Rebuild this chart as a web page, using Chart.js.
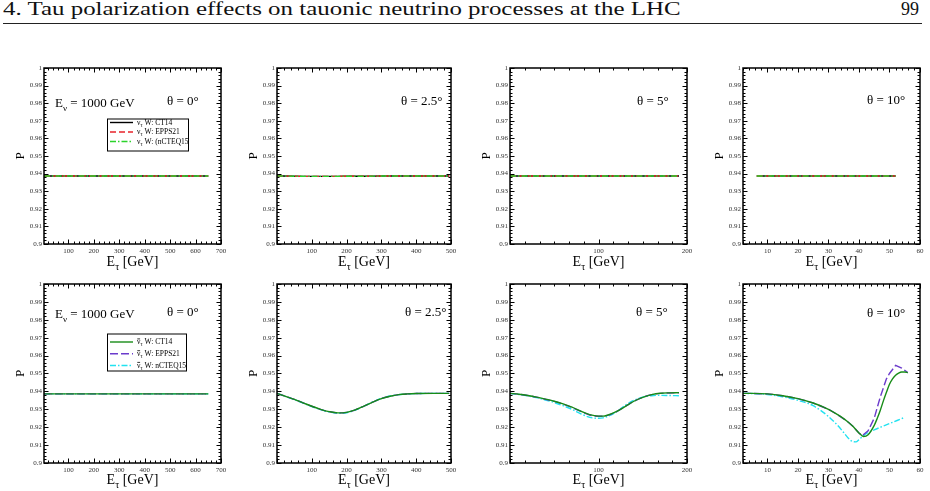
<!DOCTYPE html>
<html>
<head>
<meta charset="utf-8">
<script src="https://cdn.jsdelivr.net/npm/chart.js@4.4.1/dist/chart.umd.min.js"></script>
<style>
html,body{margin:0;padding:0;background:#fff;}
body{width:930px;height:491px;position:relative;overflow:hidden;}
#hdr{position:absolute;left:3px;top:0px;font-family:"Liberation Serif",serif;font-size:18px;line-height:19px;color:#111;white-space:nowrap;transform-origin:0 0;}
#pg{position:absolute;left:901px;top:0px;font-family:"Liberation Serif",serif;font-size:18px;line-height:19px;color:#111;white-space:nowrap;}
#rule{position:absolute;left:3px;width:919px;top:23px;height:0;border-top:1.3px solid #222;}
canvas{position:absolute;}
</style>
</head>
<body>
<div id="hdr"></div><div id="pg"></div><div id="rule"></div>
<script>
// ---------------- text ----------------
const PAGE_TITLE = "4. Tau polarization effects on tauonic neutrino processes at the LHC";
const PAGE_NUMBER = "99";
const angleLabels = ["θ = 0°", "θ = 2.5°", "θ = 5°", "θ = 10°"];
const beamEnergyText = " = 1000 GeV";
const nuLegendNames = ["W: CT14", "W: EPPS21", "W: (nCTEQ15"];
const nubarLegendNames = ["W: CT14", "W: EPPS21", "W: nCTEQ15"];
const yAxisTitle = "P";

// ---------------- data: top row (ν_τ) ----------------
const E_nu_0 = [4, 50, 100, 150, 200, 250, 300, 350, 400, 450, 500, 550, 600, 650];
const P_nu_0_CT14    = [0.9386,0.9386,0.9386,0.9386,0.9386,0.9386,0.9386,0.9386,0.9386,0.9386,0.9386,0.9386,0.9386,0.9386];
const P_nu_0_EPPS21  = [0.9386,0.9386,0.9386,0.9386,0.9386,0.9386,0.9386,0.9386,0.9386,0.9386,0.9386,0.9386,0.9386,0.9386];
const P_nu_0_nCTEQ15 = [0.9386,0.9386,0.9386,0.9386,0.9386,0.9386,0.9386,0.9386,0.9386,0.9386,0.9386,0.9386,0.9386,0.9386];

const E_nu_25 = [0, 50, 100, 150, 200, 250, 300, 350, 400, 450, 495];
const P_nu_25_CT14    = [0.9387,0.9385,0.9384,0.9384,0.9385,0.9385,0.9386,0.9386,0.9386,0.9386,0.9386];
const P_nu_25_EPPS21  = [0.9387,0.9385,0.9384,0.9384,0.9385,0.9385,0.9386,0.9386,0.9386,0.9386,0.9386];
const P_nu_25_nCTEQ15 = [0.9387,0.9385,0.9384,0.9384,0.9385,0.9385,0.9386,0.9386,0.9386,0.9386,0.9386];

const E_nu_5 = [0, 20, 40, 60, 80, 100, 120, 140, 160, 180, 191];
const P_nu_5_CT14    = [0.9386,0.9386,0.9386,0.9386,0.9386,0.9386,0.9386,0.9386,0.9386,0.9386,0.9386];
const P_nu_5_EPPS21  = [0.9386,0.9386,0.9386,0.9386,0.9386,0.9386,0.9386,0.9386,0.9386,0.9386,0.9386];
const P_nu_5_nCTEQ15 = [0.9386,0.9386,0.9386,0.9386,0.9386,0.9386,0.9386,0.9386,0.9386,0.9386,0.9386];

const E_nu_10 = [6.5, 10, 15, 20, 25, 30, 35, 40, 45, 52];
const P_nu_10_CT14    = [0.9386,0.9386,0.9386,0.9386,0.9386,0.9386,0.9386,0.9386,0.9386,0.9386];
const P_nu_10_EPPS21  = [0.9386,0.9386,0.9386,0.9386,0.9386,0.9386,0.9386,0.9386,0.9386,0.9386];
const P_nu_10_nCTEQ15 = [0.9386,0.9386,0.9386,0.9386,0.9386,0.9386,0.9386,0.9386,0.9386,0.9386];

// ---------------- data: bottom row (anti-ν_τ) ----------------
const E_nb_0 = [4, 50, 100, 150, 200, 250, 300, 350, 400, 450, 500, 550, 600, 650];
const P_nb_0_CT14    = [0.9386,0.9386,0.9386,0.9386,0.9386,0.9386,0.9386,0.9386,0.9386,0.9386,0.9386,0.9386,0.9386,0.9386];
const P_nb_0_EPPS21  = [0.9386,0.9386,0.9386,0.9386,0.9386,0.9386,0.9386,0.9386,0.9386,0.9386,0.9386,0.9386,0.9386,0.9386];
const P_nb_0_nCTEQ15 = [0.9386,0.9386,0.9386,0.9386,0.9386,0.9386,0.9386,0.9386,0.9386,0.9386,0.9386,0.9386,0.9386,0.9386];

const E_nb_25 = [0, 25, 50, 75, 100, 125, 150, 175, 200, 225, 250, 275, 300, 325, 350, 375, 400, 450, 495];
const P_nb_25_CT14    = [0.9389,0.9372,0.9355,0.9336,0.9317,0.9300,0.9287,0.9280,0.9283,0.9297,0.9318,0.9340,0.9360,0.9373,0.9382,0.9386,0.9388,0.9389,0.9389];
const P_nb_25_EPPS21  = [0.9389,0.9372,0.9355,0.9336,0.9317,0.9300,0.9287,0.9280,0.9283,0.9297,0.9318,0.9340,0.9360,0.9373,0.9382,0.9386,0.9388,0.9389,0.9389];
const P_nb_25_nCTEQ15 = [0.9389,0.9371,0.9354,0.9335,0.9315,0.9298,0.9285,0.9278,0.9281,0.9296,0.9318,0.9341,0.9361,0.9374,0.9382,0.9386,0.9388,0.9389,0.9389];

const E_nb_5 = [0, 10, 20, 30, 40, 50, 60, 70, 80, 90, 100, 105, 110, 120, 130, 140, 150, 160, 170, 180, 191];
const P_nb_5_CT14    = [0.9389,0.9384,0.9377,0.9368,0.9357,0.9345,0.9330,0.9312,0.9290,0.9270,0.9262,0.9262,0.9267,0.9287,0.9315,0.9345,0.9367,0.9382,0.9390,0.9392,0.9393];
const P_nb_5_EPPS21  = [0.9389,0.9384,0.9377,0.9368,0.9356,0.9344,0.9329,0.9310,0.9288,0.9268,0.9261,0.9261,0.9266,0.9286,0.9315,0.9345,0.9367,0.9382,0.9389,0.9391,0.9392];
const P_nb_5_nCTEQ15 = [0.9389,0.9383,0.9375,0.9365,0.9352,0.9338,0.9320,0.9300,0.9275,0.9255,0.9250,0.9252,0.9260,0.9285,0.9322,0.9350,0.9368,0.9376,0.9378,0.9377,0.9376];

const E_nb_10_CT14 = [2, 5, 10, 15, 20, 25, 30, 33, 36, 38, 40, 41.5, 43, 45, 46, 47, 48, 49, 50, 51, 52, 53, 54, 55, 56];
const P_nb_10_CT14 = [0.9389,0.9389,0.9386,0.9376,0.9360,0.9335,0.9300,0.9270,0.9235,0.9205,0.9168,0.9148,0.9158,0.9210,0.9250,0.9295,0.9347,0.9395,0.9440,0.9470,0.9490,0.9502,0.9508,0.9508,0.9505];
const E_nb_10_EPPS21 = [2, 5, 10, 15, 20, 25, 30, 33, 36, 38, 40, 41, 43, 45, 47, 49, 50, 52, 54, 56];
const P_nb_10_EPPS21 = [0.9389,0.9389,0.9386,0.9376,0.9360,0.9335,0.9300,0.9270,0.9235,0.9205,0.9168,0.9152,0.9180,0.9250,0.9370,0.9470,0.9500,0.9545,0.9530,0.9505];
const E_nb_10_nCTEQ15 = [2, 5, 10, 15, 20, 25, 30, 33, 35, 37, 38, 39, 40, 42, 45, 50, 55];
const P_nb_10_nCTEQ15 = [0.9389,0.9388,0.9383,0.9370,0.9350,0.9320,0.9260,0.9210,0.9170,0.9130,0.9120,0.9118,0.9130,0.9160,0.9185,0.9220,0.9255];

// ---------------- styles ----------------
const ST = {
  t_ct: {color:'#000000', dash:[], order:3},
  t_ep: {color:'#e8232b', dash:[6,3], order:2},
  t_nc: {color:'#2bd32b', dash:[6,2,1.5,2], order:1},
  b_ct: {color:'#178c17', dash:[], order:1},
  b_ep: {color:'#6b3bcc', dash:[8,3], order:2},
  b_nc: {color:'#22e2f0', dash:[6,2,1.5,2], order:3}
};

const COLS = [[44,221],[277,451],[510,687],[743,920]];
const ROWS = [[67.5,243],[283.5,462]];
const YW = 44, PT = 8, PR = 10, XH = 34;

const panels = [
  {r:0,c:0,xmin:4,xmax:700,major:100,nminor:5, series:[[E_nu_0,P_nu_0_CT14,'t_ct'],[E_nu_0,P_nu_0_EPPS21,'t_ep'],[E_nu_0,P_nu_0_nCTEQ15,'t_nc']], thetaX:167, thetaY:101, energy:{x:55,y:102}, legend:{box:[107,118,188,150], rows:[122,131.5,141], bar:false, names:nuLegendNames, styles:['t_ct','t_ep','t_nc']}},
  {r:0,c:1,xmin:0,xmax:500,major:100,nminor:5, series:[[E_nu_25,P_nu_25_CT14,'t_ct'],[E_nu_25,P_nu_25_EPPS21,'t_ep'],[E_nu_25,P_nu_25_nCTEQ15,'t_nc']], thetaX:401, thetaY:101},
  {r:0,c:2,xmin:0,xmax:200,major:100,nminor:6, series:[[E_nu_5,P_nu_5_CT14,'t_ct'],[E_nu_5,P_nu_5_EPPS21,'t_ep'],[E_nu_5,P_nu_5_nCTEQ15,'t_nc']], thetaX:637, thetaY:101},
  {r:0,c:3,xmin:2,xmax:60,major:10,nminor:5, series:[[E_nu_10,P_nu_10_CT14,'t_ct'],[E_nu_10,P_nu_10_EPPS21,'t_ep'],[E_nu_10,P_nu_10_nCTEQ15,'t_nc']], thetaX:867, thetaY:100},
  {r:1,c:0,xmin:4,xmax:700,major:100,nminor:5, series:[[E_nb_0,P_nb_0_CT14,'b_ct'],[E_nb_0,P_nb_0_EPPS21,'b_ep'],[E_nb_0,P_nb_0_nCTEQ15,'b_nc']], thetaX:167, thetaY:312, energy:{x:55,y:313}, legend:{box:[107,333,186,370], rows:[341.5,353.3,365], bar:true, names:nubarLegendNames, styles:['b_ct','b_ep','b_nc']}},
  {r:1,c:1,xmin:0,xmax:500,major:100,nminor:5, series:[[E_nb_25,P_nb_25_CT14,'b_ct'],[E_nb_25,P_nb_25_EPPS21,'b_ep'],[E_nb_25,P_nb_25_nCTEQ15,'b_nc']], thetaX:405, thetaY:312},
  {r:1,c:2,xmin:0,xmax:200,major:100,nminor:6, series:[[E_nb_5,P_nb_5_CT14,'b_ct'],[E_nb_5,P_nb_5_EPPS21,'b_ep'],[E_nb_5,P_nb_5_nCTEQ15,'b_nc']], thetaX:636, thetaY:312},
  {r:1,c:3,xmin:2,xmax:60,major:10,nminor:5, series:[[E_nb_10_CT14,P_nb_10_CT14,'b_ct'],[E_nb_10_EPPS21,P_nb_10_EPPS21,'b_ep',true],[E_nb_10_nCTEQ15,P_nb_10_nCTEQ15,'b_nc']], thetaX:867, thetaY:313}
];

document.getElementById('hdr').textContent = PAGE_TITLE;
document.getElementById('pg').textContent = PAGE_NUMBER;
// stretch the header horizontally to the reference width (~678 px)
(function(){
  const c = document.createElement('canvas').getContext('2d');
  c.font = '18px "Liberation Serif"';
  const w = c.measureText(PAGE_TITLE).width;
  document.getElementById('hdr').style.transform = 'scaleX(' + (678 / w).toFixed(4) + ')';
})();

const SERIF = '"Liberation Serif", "Times New Roman", serif';

function drawSubText(ctx, x, yb, main, sub, rest, size, subSize, bar) {
  ctx.font = size + 'px ' + SERIF;
  ctx.textBaseline = 'alphabetic';
  ctx.textAlign = 'left';
  const wm = ctx.measureText(main).width;
  ctx.fillText(main, x, yb);
  if (bar) {
    ctx.save(); ctx.lineWidth = 0.8; ctx.beginPath();
    ctx.moveTo(x + 0.3, yb - size*0.68); ctx.lineTo(x + wm - 0.3, yb - size*0.68); ctx.stroke(); ctx.restore();
  }
  ctx.font = subSize + 'px ' + SERIF;
  const ws = ctx.measureText(sub).width;
  ctx.fillText(sub, x + wm, yb + size*0.3);
  ctx.font = size + 'px ' + SERIF;
  ctx.fillText(rest, x + wm + ws, yb);
  return wm + ws + ctx.measureText(rest).width;
}
function measureSub(ctx, main, sub, rest, size, subSize) {
  ctx.font = size + 'px ' + SERIF; let w = ctx.measureText(main).width + ctx.measureText(rest).width;
  ctx.font = subSize + 'px ' + SERIF; w += ctx.measureText(sub).width; return w;
}

const framePlugin = {
  id: 'frame',
  afterDraw(chart) {
    const o = chart.options.plugins.frame;
    const {ctx, chartArea:a, scales:{x, y}} = chart;
    ctx.save();
    ctx.strokeStyle = '#000'; ctx.fillStyle = '#000'; ctx.lineWidth = 1;
    const line = (x1,y1,x2,y2) => { ctx.beginPath(); ctx.moveTo(x1,y1); ctx.lineTo(x2,y2); ctx.stroke(); };
    // x ticks (inward, bottom & top)
    const mstep = o.major / o.nminor;
    for (let k = Math.ceil(o.xmin/mstep - 1e-9); k*mstep <= o.xmax + 1e-9; k++) {
      const px = Math.round(x.getPixelForValue(k*mstep)) + 0.5;
      const len = (k % o.nminor === 0) ? 4.5 : 2.5;
      line(px, a.bottom, px, a.bottom - len);
      line(px, a.top, px, a.top + len);
    }
    // y ticks (inward, left & right)
    for (let i = 0; i <= 50; i++) {
      const py = Math.round(y.getPixelForValue(0.9 + i*0.002)) + 0.5;
      const len = (i % 5 === 0) ? 4.5 : 2.5;
      line(a.left, py, a.left + len, py);
      line(a.right, py, a.right - len, py);
    }
    // frame
    ctx.lineWidth = 1.5;
    ctx.strokeRect(a.left, a.top, a.right - a.left, a.bottom - a.top);
    // y title
    ctx.save();
    ctx.translate(a.left - 23, (a.top + a.bottom)/2);
    ctx.rotate(-Math.PI/2);
    ctx.font = '13px ' + SERIF; ctx.textAlign = 'center'; ctx.textBaseline = 'middle';
    ctx.fillText(yAxisTitle, 0, 0);
    ctx.restore();
    // x title
    const xt = measureSub(ctx, 'E', 'τ', ' [GeV]', 14, 10);
    drawSubText(ctx, (a.left + a.right)/2 - xt/2, o.xTitleY, 'E', 'τ', ' [GeV]', 14, 10, false);
    // angle label
    ctx.font = '13px ' + SERIF; ctx.textBaseline = 'middle'; ctx.textAlign = 'left';
    ctx.fillText(o.theta, o.thetaX - o.cl, o.thetaY - o.ct);
    // beam energy
    if (o.energy) {
      drawSubText(ctx, o.energy.x - o.cl, o.energy.y - o.ct + 4.5, 'E', 'ν', beamEnergyText, 13, 9, false);
    }
    // legend
    if (o.legend) {
      const L = o.legend, b = L.box;
      ctx.lineWidth = 1; ctx.strokeStyle = '#000';
      ctx.strokeRect(b[0] - o.cl + 0.5, b[1] - o.ct + 0.5, b[2]-b[0], b[3]-b[1]);
      L.rows.forEach((ry, i) => {
        const s = ST[L.styles[i]];
        const yy = ry - o.ct;
        ctx.save(); ctx.strokeStyle = s.color; ctx.lineWidth = 1.4; ctx.setLineDash(s.dash);
        line(110 - o.cl, yy, 133 - o.cl, yy); ctx.restore();
        ctx.fillStyle = '#000'; ctx.strokeStyle = '#000';
        drawSubText(ctx, 137 - o.cl, yy + 2, 'ν', 'τ', ' ' + L.names[i], 7.5, 5.5, L.bar);
      });
    }
    ctx.restore();
  }
};

panels.forEach((p, idx) => {
  const [L, R] = COLS[p.c];
  const [T, B] = ROWS[p.r];
  const cl = L - YW, ct = T - PT;
  const cw = (R - L) + YW + PR, ch = (B - T) + PT + XH;
  const cv = document.createElement('canvas');
  cv.width = Math.round(cw); cv.height = Math.round(ch);
  cv.style.left = cl + 'px'; cv.style.top = ct + 'px';
  cv.style.width = Math.round(cw) + 'px'; cv.style.height = Math.round(ch) + 'px';
  document.body.appendChild(cv);
  const xTitleY = (p.r === 0 ? 265 : 483) - ct;
  const majors = [];
  for (let k = Math.ceil(p.xmin / p.major - 1e-9); k * p.major <= p.xmax + 1e-9; k++) majors.push(k * p.major);
  new Chart(cv, {
    type: 'line',
    data: {
      datasets: p.series.map(([xs, ys, st, straight]) => ({
        data: xs.map((xv, i) => ({x: xv, y: ys[i]})),
        borderColor: ST[st].color,
        borderDash: ST[st].dash,
        borderWidth: 1.4,
        pointRadius: 0,
        fill: false,
        tension: straight ? 0 : 0.4,
        cubicInterpolationMode: straight ? 'default' : 'monotone',
        order: ST[st].order
      }))
    },
    options: {
      responsive: false, animation: false, devicePixelRatio: 1,
      layout: {padding: {top: PT, right: PR, left: 0, bottom: 0}},
      plugins: {
        legend: {display: false}, tooltip: {enabled: false},
        frame: {xmin: p.xmin, xmax: p.xmax, major: p.major, nminor: p.nminor, theta: angleLabels[p.c],
                thetaX: p.thetaX, thetaY: p.thetaY, energy: p.energy, legend: p.legend, cl, ct, xTitleY}
      },
      scales: {
        x: {type: 'linear', min: p.xmin, max: p.xmax,
            afterBuildTicks(s) { s.ticks = majors.map(v => ({value: v})); },
            afterFit(s) { s.height = XH; },
            grid: {display: false, drawTicks: false}, border: {display: false},
            ticks: {autoSkip: false, maxRotation: 0, padding: 3,
                    font: {family: SERIF, size: 7}, color: '#333',
                    callback: v => (v !== 0) ? String(Math.round(v)) : ''}},
        y: {type: 'linear', min: 0.9, max: 1,
            afterFit(s) { s.width = YW; },
            grid: {display: false, drawTicks: false}, border: {display: false},
            ticks: {stepSize: 0.01, autoSkip: false, padding: 2, font: {family: SERIF, size: 7}, color: '#333',
                    callback: v => String(+Number(v).toFixed(2))}}
      }
    },
    plugins: [framePlugin]
  });
});
</script>
</body>
</html>
